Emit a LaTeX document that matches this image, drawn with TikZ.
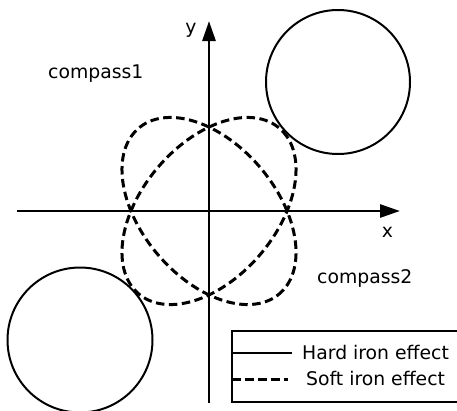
\documentclass[tikz,border=0pt]{standalone}
\usepackage{fontspec}
\setmainfont{DejaVu Sans}
\usetikzlibrary{arrows.meta}

\tikzset{
  axis/.style={line width=2.8pt, -{Triangle[length=20pt,width=13pt]}},
  hardiron/.style={line width=2pt},
  softiron/.style={line width=3pt, dash pattern=on 8.5pt off 4.5pt},
  lbl/.style={inner sep=0pt, font=\fontsize{18.8pt}{22pt}\selectfont},
}

\begin{document}
\begin{tikzpicture}[x=1pt, y=-1pt]
    \useasboundingbox (0,0) rectangle (457,410);
    \clip (0,0) rectangle (457,410);
    % Axes
    \coordinate (O) at (209,211);
    \coordinate (xs) at (17,211);
    \coordinate (xe) at (400,211);
    \coordinate (ys) at (209,403);
    \coordinate (ye) at (209,21);
    \draw[axis] (xs) -- (xe);
    \draw[axis] (ys) -- (ye);
    \node[lbl, anchor=base] (xlbl) at (387.5,237) {x};
    \node[lbl, anchor=base] (ylbl) at (191,33) {y};
    % Hard iron: shifted circles
    \draw[hardiron] (338,82) circle (72);
    \draw[hardiron] (80,340) circle (72.5);
    % Soft iron: tilted ellipses
    \draw[softiron, shift={(O)}, yscale=1.075, rotate=45] (0,0) ellipse [x radius=104.5, y radius=65];
    \draw[softiron, shift={(O)}, yscale=1.075, rotate=-45] (0,0) ellipse [x radius=104.5, y radius=65];
    % Compass labels
    \node[lbl, anchor=base west] (comp1) at (48,78) {compass1};
    \node[lbl, anchor=base west] (comp2) at (317,283) {compass2};
    % Legend
    \draw[hardiron] (462,331) -- (232,331) -- (232,402) -- (462,402);
    \draw[hardiron] (232,353) -- (292,353);
    \draw[softiron] (232,379) -- (288,379);
    \node[lbl, anchor=base west] (hardlbl) at (302,359) {Hard iron effect};
    \node[lbl, anchor=base west] (softlbl) at (306,385) {Soft iron effect};
\end{tikzpicture}
\end{document}
